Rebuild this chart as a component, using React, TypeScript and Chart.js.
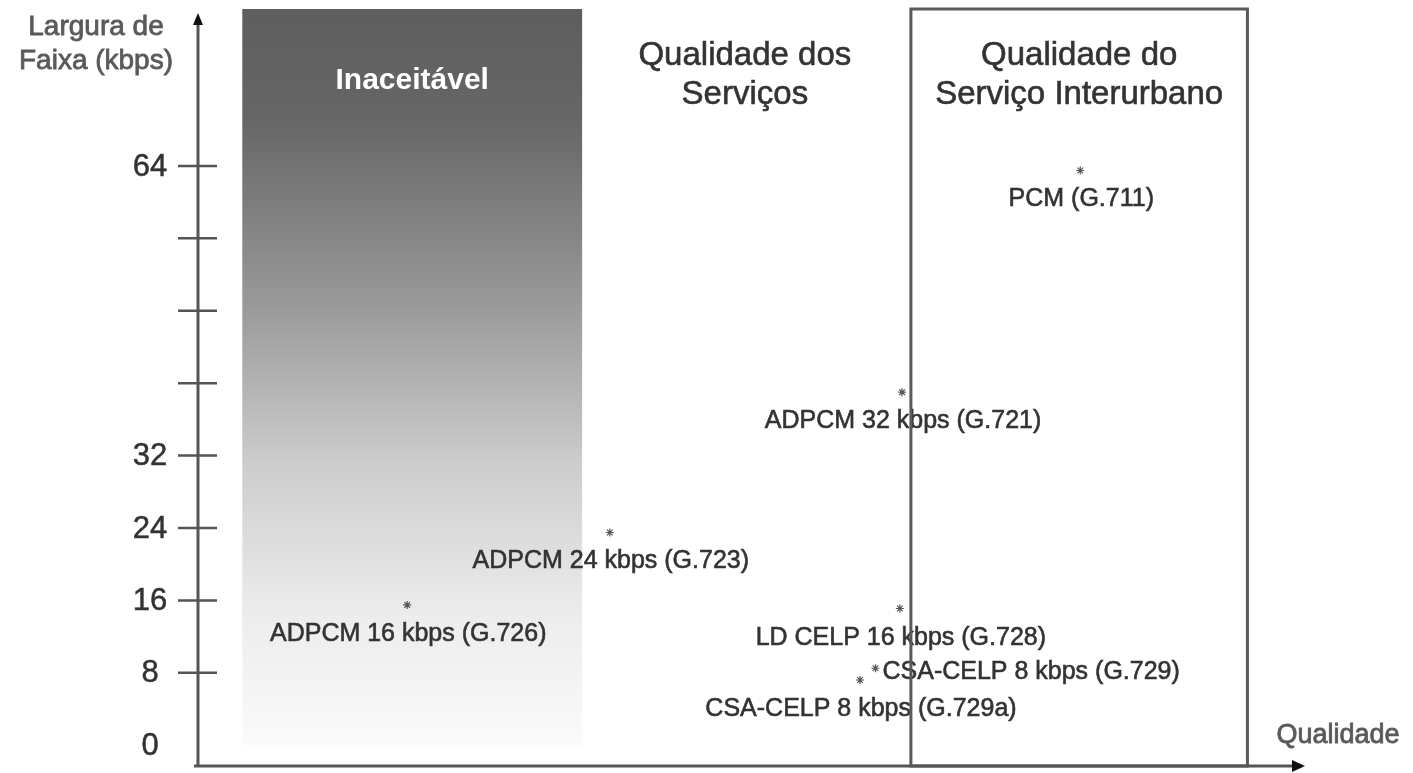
import React, { useEffect, useRef } from 'react';
import { Chart, registerables } from 'chart.js';

Chart.register(...registerables);

// ---- data ----
const codecNames = [
  'PCM (G.711)',
  'ADPCM 32 kbps (G.721)',
  'ADPCM 24 kbps (G.723)',
  'ADPCM 16 kbps (G.726)',
  'LD CELP 16 kbps (G.728)',
  'CSA-CELP 8 kbps (G.729)',
  'CSA-CELP 8 kbps (G.729a)',
];
const qualityValues = [79.7, 63.6, 37.2, 18.9, 63.4, 61.2, 59.8];
const bandwidthValues = [63.5, 39.0, 23.5, 15.5, 15.1, 8.5, 7.2];
const labelPlacement = ['below', 'below', 'below', 'below', 'below', 'right', 'below'];

const yTickValues = [8, 16, 24, 32, 40, 48, 56, 64];
const yLabelValues = [0, 8, 16, 24, 32, 64];
const yLabelTexts = ['0', '8', '16', '24', '32', '64'];

const unacceptableRange = [4.0, 34.7];
const unacceptableTitle = ['Inaceitável'];
const serviceQualityTitle = ['Qualidade dos', 'Serviços'];
const serviceQualityCenter = 49.4;
const longDistanceRange = [64.4, 94.8];
const longDistanceTitle = ['Qualidade do', 'Serviço Interurbano'];
const yAxisTitle = ['Largura de', 'Faixa (kbps)'];
const xAxisTitle = 'Qualidade';

const FONT = '"Liberation Sans", Arial, sans-serif';

function heavyText(ctx: any, text: string, px: number, py: number, w = 0.6) {
  ctx.fillText(text, px, py);
  ctx.lineWidth = w;
  ctx.strokeStyle = ctx.fillStyle;
  ctx.strokeText(text, px, py);
}

const overlayPlugin = {
  id: 'overlay',
  beforeDatasetsDraw(chart: any) {
    const { ctx, chartArea, scales } = chart;
    const x = scales.x;
    const y = scales.y;
    const top = chartArea.top - 4;
    const bottom = y.getPixelForValue(0);
    const x0 = x.getPixelForValue(unacceptableRange[0]);
    const x1 = x.getPixelForValue(unacceptableRange[1]);
    ctx.save();
    const g = ctx.createLinearGradient(0, top, 0, bottom);
    g.addColorStop(0, '#5e5e5e');
    g.addColorStop(0.15, '#666666');
    g.addColorStop(0.4, '#999999');
    g.addColorStop(0.62, '#cdcdcd');
    g.addColorStop(0.82, '#ececec');
    g.addColorStop(1, '#fbfbfb');
    ctx.fillStyle = g;
    ctx.fillRect(x0, top, x1 - x0, bottom - top);

    ctx.fillStyle = '#ffffff';
    ctx.font = `bold 30px ${FONT}`;
    ctx.textAlign = 'center';
    ctx.textBaseline = 'alphabetic';
    ctx.fillText(unacceptableTitle[0], (x0 + x1) / 2, 89);
    ctx.restore();
  },
  afterDatasetsDraw(chart: any) {
    const { ctx, chartArea, scales } = chart;
    const x = scales.x;
    const y = scales.y;
    const meta = chart.getDatasetMeta(0);
    ctx.save();

    // point labels
    ctx.fillStyle = '#333333';
    ctx.font = `25px ${FONT}`;
    ctx.textBaseline = 'alphabetic';
    meta.data.forEach((pt: any, i: number) => {
      if (labelPlacement[i] === 'right') {
        ctx.textAlign = 'left';
        heavyText(ctx, codecNames[i], pt.x + 7, pt.y + 11);
      } else {
        ctx.textAlign = 'center';
        heavyText(ctx, codecNames[i], pt.x + 1, pt.y + 36);
      }
    });

    // region titles
    ctx.font = `33px ${FONT}`;
    ctx.textAlign = 'center';
    ctx.fillStyle = '#333333';
    const sx = x.getPixelForValue(serviceQualityCenter);
    heavyText(ctx, serviceQualityTitle[0], sx, 65);
    heavyText(ctx, serviceQualityTitle[1], sx, 104);
    const lx0 = x.getPixelForValue(longDistanceRange[0]);
    const lx1 = x.getPixelForValue(longDistanceRange[1]);
    heavyText(ctx, longDistanceTitle[0], (lx0 + lx1) / 2, 65);
    heavyText(ctx, longDistanceTitle[1], (lx0 + lx1) / 2, 104);

    // long-distance box
    const axisY = chartArea.bottom;
    ctx.strokeStyle = '#5a5a5a';
    ctx.lineWidth = 3;
    ctx.strokeRect(lx0, chartArea.top - 4, lx1 - lx0, axisY - chartArea.top + 4);

    // axes
    const axisX = chartArea.left;
    ctx.strokeStyle = '#555555';
    ctx.lineWidth = 3;
    ctx.beginPath();
    ctx.moveTo(axisX, axisY + 1);
    ctx.lineTo(axisX, chartArea.top + 8);
    ctx.stroke();
    ctx.beginPath();
    ctx.moveTo(axisX - 4, axisY);
    ctx.lineTo(chartArea.right - 8, axisY);
    ctx.stroke();

    ctx.fillStyle = '#111111';
    ctx.beginPath();
    ctx.moveTo(axisX, chartArea.top);
    ctx.lineTo(axisX - 5, chartArea.top + 12);
    ctx.lineTo(axisX + 5, chartArea.top + 12);
    ctx.closePath();
    ctx.fill();
    ctx.beginPath();
    ctx.moveTo(chartArea.right, axisY);
    ctx.lineTo(chartArea.right - 13, axisY - 6);
    ctx.lineTo(chartArea.right - 13, axisY + 6);
    ctx.closePath();
    ctx.fill();

    // tick marks
    ctx.strokeStyle = '#555555';
    ctx.lineWidth = 2.5;
    yTickValues.forEach((v) => {
      const py = y.getPixelForValue(v);
      ctx.beginPath();
      ctx.moveTo(axisX - 20, py);
      ctx.lineTo(axisX + 19, py);
      ctx.stroke();
    });

    // tick labels
    ctx.fillStyle = '#333333';
    ctx.font = `31px ${FONT}`;
    ctx.textAlign = 'center';
    ctx.textBaseline = 'middle';
    yLabelValues.forEach((v, i) => {
      heavyText(ctx, yLabelTexts[i], axisX - 48, y.getPixelForValue(v) + 1, 0.5);
    });

    // axis titles
    ctx.fillStyle = '#5a5a5a';
    ctx.font = `28px ${FONT}`;
    ctx.textBaseline = 'alphabetic';
    ctx.textAlign = 'center';
    heavyText(ctx, yAxisTitle[0], 96, 35, 0.8);
    heavyText(ctx, yAxisTitle[1], 96, 69, 0.8);
    ctx.font = `27px ${FONT}`;
    heavyText(ctx, xAxisTitle, 1338, 743, 0.8);

    ctx.restore();
  },
};

export default function App() {
  const canvasRef = useRef<HTMLCanvasElement | null>(null);

  useEffect(() => {
    if (!canvasRef.current) return;
    const chart = new Chart(canvasRef.current, {
      type: 'scatter',
      data: {
        datasets: [
          {
            label: 'Codecs',
            data: qualityValues.map((q, i) => ({ x: q, y: bandwidthValues[i] })),
            pointStyle: 'star',
            pointRadius: 4,
            pointHoverRadius: 4,
            borderColor: '#555555',
            backgroundColor: '#555555',
            borderWidth: 1.2,
            clip: false,
          },
        ],
      },
      options: {
        animation: false,
        responsive: true,
        maintainAspectRatio: false,
        layout: { padding: { left: 198, right: 108, top: 13, bottom: 7 } },
        plugins: {
          legend: { display: false },
          tooltip: { enabled: false },
        },
        events: [],
        scales: {
          x: { type: 'linear', min: 0, max: 100, display: false },
          y: { type: 'linear', min: -2.3, max: 80.9, display: false },
        },
      },
      plugins: [overlayPlugin],
    });
    return () => chart.destroy();
  }, []);

  return (
    <div style={{ position: 'fixed', left: 0, top: 0, width: '1413px', height: '773px', background: '#ffffff' }}>
      <canvas ref={canvasRef} />
    </div>
  );
}
